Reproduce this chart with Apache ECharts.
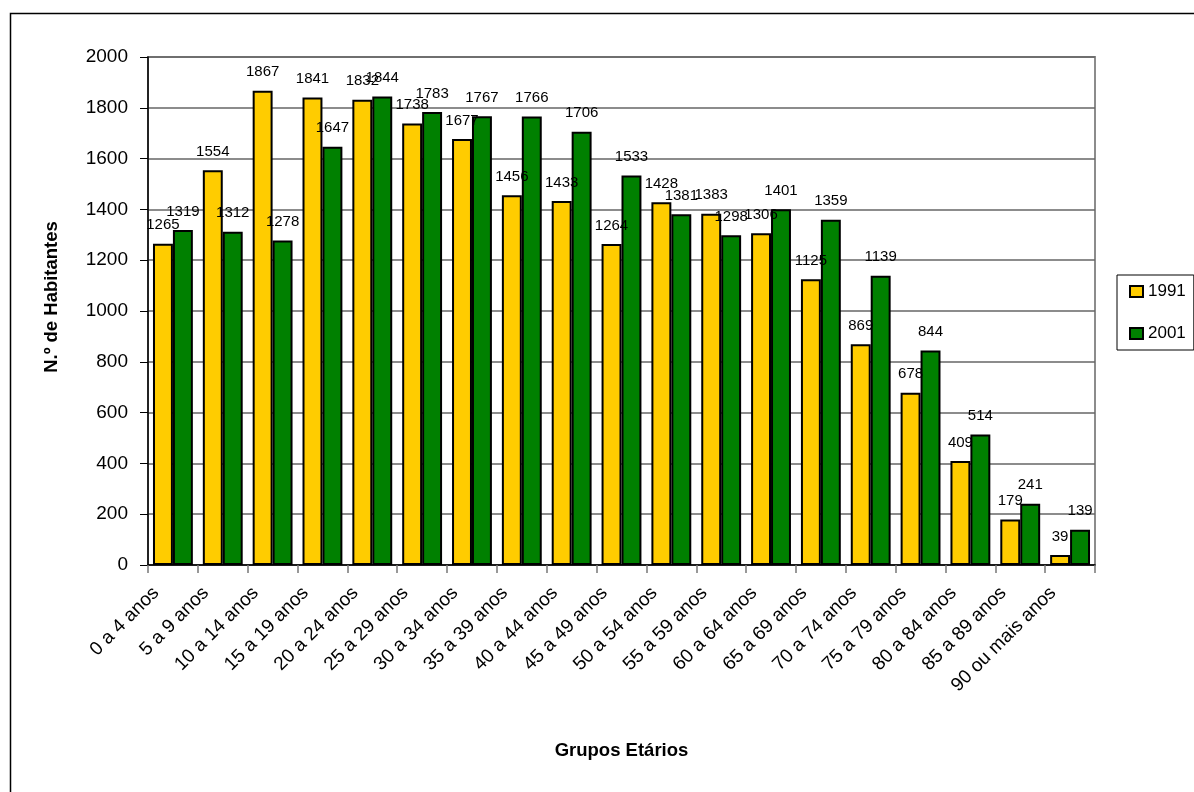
<!DOCTYPE html>
<html>
<head>
<meta charset="utf-8">
<script src="https://cdn.jsdelivr.net/npm/echarts@6/dist/echarts.min.js"></script>
<style>
  html, body { margin: 0; padding: 0; background: #fff; overflow: hidden; }
  #chart { width: 1194px; height: 792px; }
</style>
</head>
<body>
<div id="chart"></div>
<script>
// Age groups and population counts per census year
const categories = ['0 a 4 anos', '5 a 9 anos', '10 a 14 anos', '15 a 19 anos', '20 a 24 anos',
  '25 a 29 anos', '30 a 34 anos', '35 a 39 anos', '40 a 44 anos', '45 a 49 anos',
  '50 a 54 anos', '55 a 59 anos', '60 a 64 anos', '65 a 69 anos', '70 a 74 anos',
  '75 a 79 anos', '80 a 84 anos', '85 a 89 anos', '90 ou mais anos'];
const values1991 = [1265, 1554, 1867, 1841, 1832, 1738, 1677, 1456, 1433, 1264,
  1428, 1383, 1306, 1125, 869, 678, 409, 179, 39];
const values2001 = [1319, 1312, 1278, 1647, 1844, 1783, 1767, 1766, 1706, 1533,
  1381, 1298, 1401, 1359, 1139, 844, 514, 241, 139];
const seriesNames = ['1991', '2001'];

const font = '"Liberation Sans", Arial, sans-serif';
const chart = echarts.init(document.getElementById('chart'), null, { renderer: 'canvas' });

const barLabel = {
  show: true, position: 'top', distance: 11,
  color: '#000', fontFamily: font, fontSize: 15
};

chart.setOption({
  animation: false,
  backgroundColor: '#fff',
  graphic: [
    {
      // outer chart frame
      type: 'rect', left: 8, top: 11, z: -1,
      shape: { width: 1200, height: 800 },
      style: { fill: 'none', stroke: '#000', lineWidth: 1.5 }
    },
    {
      type: 'text', x: 52, y: 297, rotation: Math.PI / 2,
      style: {
        text: 'N.º de Habitantes', fontFamily: font, fontSize: 18.5, fontWeight: 'bold',
        fill: '#000', align: 'center', verticalAlign: 'middle'
      }
    }
  ],
  grid: {
    left: 148, top: 57, width: 947, height: 508, containLabel: false,
    show: true, borderColor: '#8c8c8c', borderWidth: 2, backgroundColor: 'transparent'
  },
  legend: {
    orient: 'vertical', left: 1117, top: 275,
    itemWidth: 13, itemHeight: 11, itemGap: 25, itemTextGap: 8,
    padding: [8, 8, 8, 12],
    borderColor: '#000', borderWidth: 1,
    textStyle: { fontFamily: font, fontSize: 17, color: '#000' },
    data: seriesNames.map(n => ({ name: n, icon: 'rect' }))
  },
  xAxis: {
    type: 'category', data: categories,
    name: 'Grupos Etários', nameLocation: 'middle', nameGap: 176,
    nameTextStyle: { fontFamily: font, fontSize: 18.5, fontWeight: 'bold', color: '#000' },
    axisLine: { lineStyle: { color: '#000', width: 1.5 } },
    axisTick: { show: true, length: 8, alignWithLabel: false, lineStyle: { color: '#777', width: 1.5 } },
    axisLabel: {
      rotate: 45, margin: 8, interval: 0, padding: [0, 24, 0, 0],
      fontFamily: font, fontSize: 19, color: '#000'
    }
  },
  yAxis: {
    type: 'value', min: 0, max: 2000, interval: 200,
    axisLine: { show: true, lineStyle: { color: '#000', width: 1.5 } },
    axisTick: { show: true, length: 8, inside: false, lineStyle: { color: '#000', width: 1 } },
    axisLabel: {
      margin: 20, fontFamily: font, fontSize: 19, color: '#000',
      formatter: v => String(v)
    },
    splitLine: { lineStyle: { color: '#666', width: 1.5 } }
  },
  series: [
    {
      name: seriesNames[0], type: 'bar', data: values1991,
      barGap: '0%', barCategoryGap: '20%',
      itemStyle: { color: '#FFCC00', borderColor: '#000', borderWidth: 2 },
      label: barLabel
    },
    {
      name: seriesNames[1], type: 'bar', data: values2001,
      itemStyle: { color: '#008000', borderColor: '#000', borderWidth: 2 },
      label: barLabel
    }
  ]
});
</script>
</body>
</html>
